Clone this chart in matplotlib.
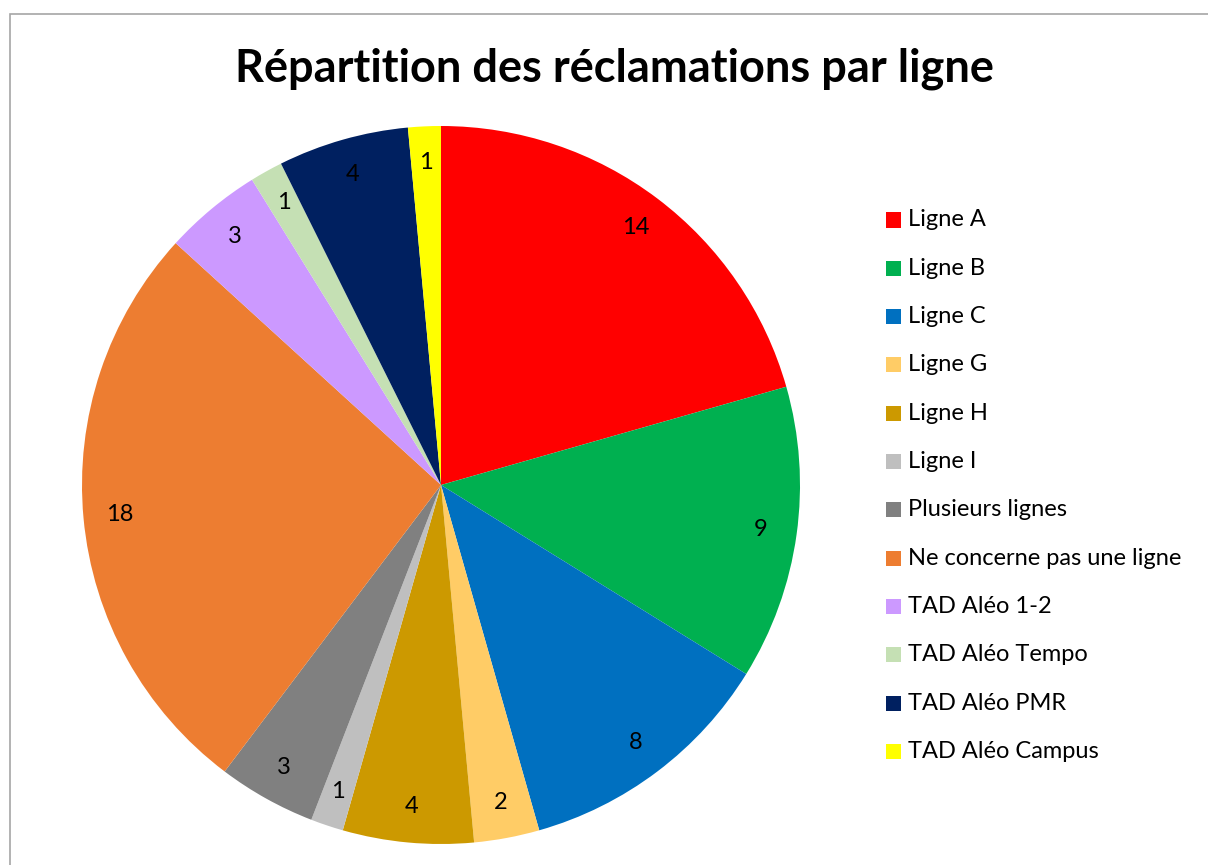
import matplotlib
matplotlib.use("Agg")
import matplotlib.pyplot as plt
from matplotlib.patches import Rectangle

labels = ["Ligne A", "Ligne B", "Ligne C", "Ligne G", "Ligne H", "Ligne I",
          "Plusieurs lignes", "Ne concerne pas une ligne", "TAD Aléo 1-2",
          "TAD Aléo Tempo", "TAD Aléo PMR", "TAD Aléo Campus"]
counts = [14, 9, 8, 2, 4, 1, 3, 18, 3, 1, 4, 1]
colors = ["#FF0000", "#00B050", "#0070C0", "#FFCC66", "#CC9900", "#BFBFBF",
          "#808080", "#ED7D31", "#CC99FF", "#C5E0B4", "#002060", "#FFFF00"]

plt.rcParams["font.family"] = ["Lato", "DejaVu Sans"]

W, H = 1208, 865
fig = plt.figure(figsize=(W / 100, H / 100), dpi=100)

# chart frame (cut off at right/bottom like the screenshot)
fig.patches.append(Rectangle((10 / W, -0.1), 1.2, (H - 14) / H + 0.1,
                             transform=fig.transFigure, fill=False,
                             edgecolor="#A6A6A6", linewidth=1.2))

ax = fig.add_axes([82 / W, 21 / H, 718 / W, 718 / H])
total = sum(counts)
wedges, texts, autotexts = ax.pie(
    counts, colors=colors, startangle=90, counterclock=False,
    autopct=lambda p: f"{round(p * total / 100):d}", pctdistance=0.9,
    radius=1, textprops=dict(fontsize=17, color="black"))
ax.set_xlim(-1, 1)
ax.set_ylim(-1, 1)
ax.set_aspect("equal")
ax.axis("off")

fig.text(614 / W, 1 - 69 / H, "Répartition des réclamations par ligne",
         ha="center", va="center", fontsize=32.5, fontweight="bold")

# legend
for i, (lab, col) in enumerate(zip(labels, colors)):
    yc = 220 + i * 48.3
    fig.patches.append(Rectangle((886 / W, 1 - (yc + 7.5) / H), 15 / W, 15 / H,
                                 transform=fig.transFigure, facecolor=col,
                                 edgecolor="none"))
    fig.text(908 / W, 1 - yc / H, lab, ha="left", va="center", fontsize=17)

fig.savefig("out.png", dpi=100)
